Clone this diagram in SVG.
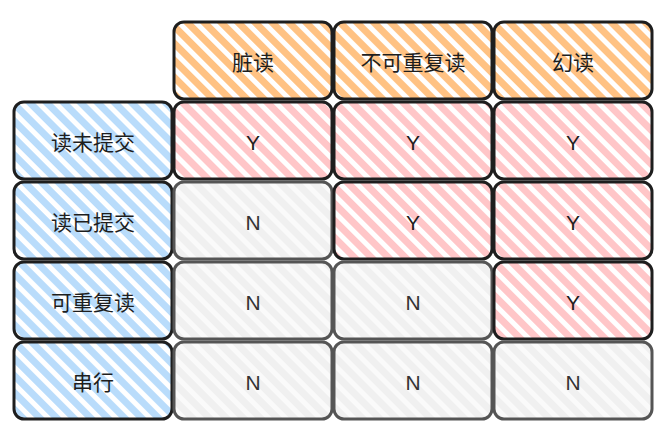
<svg xmlns="http://www.w3.org/2000/svg" width="670" height="439" viewBox="0 0 670 439">
<defs>
<pattern id="hO" width="12" height="12" patternUnits="userSpaceOnUse" patternTransform="rotate(45)"><rect width="12" height="7" fill="#ffc283"/></pattern>
<pattern id="hB" width="12" height="12" patternUnits="userSpaceOnUse" patternTransform="rotate(45)"><rect width="12" height="7" fill="#b9dcfb"/></pattern>
<pattern id="hR" width="12" height="12" patternUnits="userSpaceOnUse" patternTransform="rotate(45)"><rect width="12" height="7" fill="#ffc6c8"/></pattern>
<pattern id="hG" width="12" height="12" patternUnits="userSpaceOnUse" patternTransform="rotate(45)"><rect width="12" height="12" fill="#fafafa"/><rect width="12" height="7" fill="#f0f0f0"/></pattern>
</defs>
<style>
rect.c{stroke-width:3;rx:10px}
.o rect{fill:url(#hO);stroke:#1e1e1e}
.b rect{fill:url(#hB);stroke:#1e1e1e}
.r rect{fill:url(#hR);stroke:#1e1e1e}
.g rect{fill:url(#hG);stroke:#555}
text{text-anchor:middle;dominant-baseline:central;fill:#1e1e1e}
text.zh{font-family:"Noto Sans CJK SC","Noto Sans",sans-serif;font-size:21px}
text.yn{font-family:"Liberation Sans","Noto Sans",sans-serif;font-size:21px}
.g text{fill:#333}
</style>
<rect width="670" height="439" fill="#ffffff"/>
<g id="h1" class="o"><rect class="c" x="174" y="22" width="158" height="77"/><text class="zh" x="253" y="61">脏读</text></g>
<g id="h2" class="o"><rect class="c" x="334" y="22" width="158" height="77"/><text class="zh" x="413" y="61">不可重复读</text></g>
<g id="h3" class="o"><rect class="c" x="494" y="22" width="158" height="77"/><text class="zh" x="573" y="61">幻读</text></g>

<g id="r1" class="b"><rect class="c" x="14" y="102" width="158" height="77"/><text class="zh" x="93" y="141">读未提交</text></g>
<g id="r2" class="b"><rect class="c" x="14" y="182" width="158" height="77"/><text class="zh" x="93" y="221">读已提交</text></g>
<g id="r3" class="b"><rect class="c" x="14" y="262" width="158" height="77"/><text class="zh" x="93" y="301">可重复读</text></g>
<g id="r4" class="b"><rect class="c" x="14" y="342" width="158" height="77"/><text class="zh" x="93" y="381">串行</text></g>

<g id="c11" class="r"><rect class="c" x="174" y="102" width="158" height="77"/><text class="yn" x="253" y="142">Y</text></g>
<g id="c12" class="r"><rect class="c" x="334" y="102" width="158" height="77"/><text class="yn" x="413" y="142">Y</text></g>
<g id="c13" class="r"><rect class="c" x="494" y="102" width="158" height="77"/><text class="yn" x="573" y="142">Y</text></g>

<g id="c21" class="g"><rect class="c" x="174" y="182" width="158" height="77"/><text class="yn" x="253" y="222">N</text></g>
<g id="c22" class="r"><rect class="c" x="334" y="182" width="158" height="77"/><text class="yn" x="413" y="222">Y</text></g>
<g id="c23" class="r"><rect class="c" x="494" y="182" width="158" height="77"/><text class="yn" x="573" y="222">Y</text></g>

<g id="c31" class="g"><rect class="c" x="174" y="262" width="158" height="77"/><text class="yn" x="253" y="302">N</text></g>
<g id="c32" class="g"><rect class="c" x="334" y="262" width="158" height="77"/><text class="yn" x="413" y="302">N</text></g>
<g id="c33" class="r"><rect class="c" x="494" y="262" width="158" height="77"/><text class="yn" x="573" y="302">Y</text></g>

<g id="c41" class="g"><rect class="c" x="174" y="342" width="158" height="77"/><text class="yn" x="253" y="382">N</text></g>
<g id="c42" class="g"><rect class="c" x="334" y="342" width="158" height="77"/><text class="yn" x="413" y="382">N</text></g>
<g id="c43" class="g"><rect class="c" x="494" y="342" width="158" height="77"/><text class="yn" x="573" y="382">N</text></g>
</svg>
